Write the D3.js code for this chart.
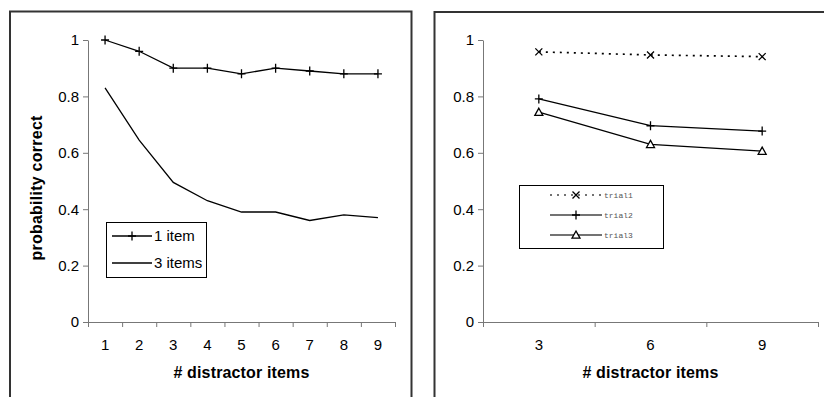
<!DOCTYPE html>
<html><head><meta charset="utf-8">
<script src="https://cdn.jsdelivr.net/npm/d3@7"></script>
<style>
body{margin:0;background:#fff;}
svg{display:block;font-family:"Liberation Sans",Arial,sans-serif;}
</style></head>
<body><svg id="c" width="824" height="397"></svg>
<script>
// ---- data ----
const leftCategories = [1,2,3,4,5,6,7,8,9];
const oneItem   = [1.00,0.96,0.90,0.90,0.88,0.90,0.89,0.88,0.88];
const threeItems= [0.83,0.645,0.495,0.43,0.39,0.39,0.36,0.38,0.37];
const rightCategories = [3,6,9];
const trial1 = [0.958,0.947,0.941];
const trial2 = [0.791,0.696,0.677];
const trial3 = [0.744,0.630,0.606];
const yTicks = [0,0.2,0.4,0.6,0.8,1];
const yTitle = "probability correct";
const xTitle = "# distractor items";
const leftLegend = ["1 item","3 items"];
const rightLegend = ["trial1","trial2","trial3"];

const svg = d3.select("#c");

// panel borders
svg.append("path").attr("d","M10,397V11.5H411.5V397").attr("fill","none").attr("stroke","#333").attr("stroke-width",2);
svg.append("path").attr("d","M434.5,397V12H826").attr("fill","none").attr("stroke","#333").attr("stroke-width",2);

const y = d3.scaleLinear().domain([0,1]).range([322,40]);

const markers = {
  plus: "M-4,0H4M0,-4.5V4.5",
  x: "M-3.5,-3.5L3.5,3.5M-3.5,3.5L3.5,-3.5",
  tri: "M0,-4L4,3.2H-4Z",
  none: ""
};

function panel(cats, x0, x1, series, yLabel) {
  const g = svg.append("g");
  const xb = d3.scaleBand().domain(cats).range([x0,x1]);
  const xl = d3.scaleLinear().domain([0,cats.length]).range([x0,x1]);
  const ya = g.append("g").attr("transform",`translate(${x0},0)`)
    .call(d3.axisLeft(y).tickValues(yTicks).tickFormat(d=>String(+d.toFixed(1))).tickSize(5).tickSizeOuter(0).tickPadding(4));
  ya.selectAll("text").attr("font-size",15).attr("fill","#000").attr("font-family","'Liberation Sans',Arial,sans-serif");
  g.append("g").attr("transform",`translate(0,${y(0)})`)
    .call(d3.axisBottom(xl).tickValues(d3.range(cats.length+1)).tickFormat("").tickSize(5).tickSizeOuter(0));
  const xlab = g.append("g").attr("transform",`translate(0,${y(0)})`)
    .call(d3.axisBottom(xb).tickSize(0).tickPadding(17));
  xlab.select(".domain").remove();
  xlab.selectAll("text").attr("font-size",15).attr("fill","#000").attr("font-family","'Liberation Sans',Arial,sans-serif");
  g.selectAll(".domain").attr("stroke","#777");
  g.selectAll(".tick line").attr("stroke","#777");
  g.append("text").attr("x",(x0+x1)/2).attr("y",378).attr("text-anchor","middle")
    .attr("font-size",16).attr("font-weight","bold").attr("letter-spacing",0.15).text(xTitle);
  if (yLabel) {
    g.append("text").attr("transform",`translate(42,188) rotate(-90)`).attr("text-anchor","middle")
      .attr("font-size",16).attr("font-weight","bold").attr("letter-spacing",0.25).text(yTitle);
  }
  series.forEach(s => {
    const line = d3.line().x((d,i)=>xb(cats[i])+xb.bandwidth()/2).y(d=>y(d));
    g.append("path").attr("d",line(s.values)).attr("fill","none").attr("stroke","#000")
      .attr("stroke-width",s.dash?1.7:1.3).attr("stroke-dasharray",s.dash||null);
    if (s.marker!=="none") {
      g.selectAll(null).data(s.values).join("path")
        .attr("transform",(d,i)=>`translate(${xb(cats[i])+xb.bandwidth()/2},${y(d)})`)
        .attr("d",markers[s.marker]).attr("fill",s.marker==="tri"?"#fff":"none")
        .attr("stroke","#000").attr("stroke-width",1.3);
    }
  });
}

panel(leftCategories, 88, 395, [
  {values: oneItem, marker:"plus"},
  {values: threeItems, marker:"none"}
], true);

panel(rightCategories, 483, 818, [
  {values: trial1, marker:"x", dash:"2,5"},
  {values: trial2, marker:"plus"},
  {values: trial3, marker:"tri"}
], false);

// left legend
const lg = svg.append("g");
lg.append("rect").attr("x",106.5).attr("y",222.5).attr("width",100).attr("height",55)
  .attr("fill","#fff").attr("stroke","#000").attr("stroke-width",1);
const lmk = ["plus","none"];
leftLegend.forEach((t,i)=>{
  const yy = 236 + i*27;
  lg.append("line").attr("x1",112).attr("x2",152).attr("y1",yy).attr("y2",yy).attr("stroke","#000").attr("stroke-width",1.3);
  if (lmk[i]!=="none") lg.append("path").attr("transform",`translate(132,${yy})`).attr("d",markers[lmk[i]]).attr("fill","none").attr("stroke","#000").attr("stroke-width",1.3);
  lg.append("text").attr("x",154).attr("y",yy+5).attr("font-size",15).text(t);
});

// right legend
const rg = svg.append("g");
rg.append("rect").attr("x",519.5).attr("y",185.5).attr("width",144).attr("height",63)
  .attr("fill","#fff").attr("stroke","#000").attr("stroke-width",1);
const rmk = ["x","plus","tri"];
const rdash = ["2,5",null,null];
rightLegend.forEach((t,i)=>{
  const yy = 195 + i*20;
  rg.append("line").attr("x1",550).attr("x2",602).attr("y1",yy).attr("y2",yy).attr("stroke","#444")
    .attr("stroke-width",1.6).attr("stroke-dasharray",rdash[i]);
  rg.append("path").attr("transform",`translate(576,${yy})`).attr("d",markers[rmk[i]])
    .attr("fill",rmk[i]==="tri"?"#fff":"none").attr("stroke","#000").attr("stroke-width",1.3);
  rg.append("text").attr("x",604).attr("y",yy+2.5).attr("font-size",8)
    .attr("font-family","'Liberation Mono',monospace").attr("fill","#555").text(t);
});
</script></body></html>
